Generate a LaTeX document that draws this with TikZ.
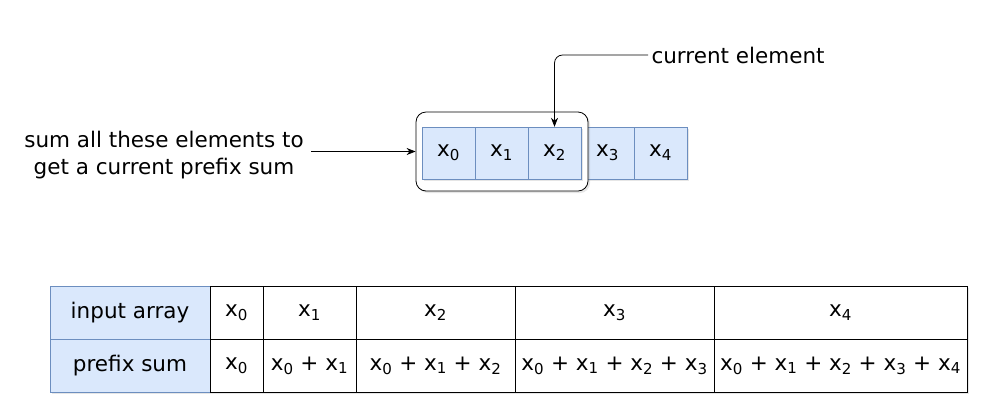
\documentclass[tikz,border=0pt]{standalone}
\usepackage{fontspec}
\setmainfont{DejaVu Sans}
\usetikzlibrary{positioning, arrows.meta, shadows}

\definecolor{cellblue}{HTML}{DAE8FC}
\definecolor{lineblue}{HTML}{6C8EBF}
\newcommand{\xs}[1]{x\textsubscript{#1}}

\begin{document}
\begin{tikzpicture}[x=1pt, y=-1pt,
	every node/.style={font=\fontsize{21.5}{27}\selectfont},
	shade/.style={drop shadow={opacity=0.2, shadow xshift=2pt, shadow yshift=-2pt}},
	arrcell/.style={draw=lineblue, fill=cellblue, minimum width=53pt, minimum height=52pt, inner sep=0pt, shade},
	headcell/.style={draw=lineblue, fill=cellblue, minimum height=53pt, inner sep=0pt, shade},
	tabcell/.style={draw=black, fill=white, minimum height=53pt, inner sep=0pt, shade},
	pointer/.style={thick, -{Stealth[length=9pt, width=7pt]}}]
	\useasboundingbox (0,0) rectangle (984,408);

	% input array at the top, the box sits between the cells
	\foreach \i in {3,4}
		\node[arrcell] (c\i) at (448.5+53*\i, 153) {\xs{\i}};
	\node[draw, thick, fill=white, rounded corners=10pt, minimum width=172pt, minimum height=79pt, shade] (grp) at (502, 151.5) {};
	\foreach \i in {0,1,2}
		\node[arrcell] (c\i) at (448.5+53*\i, 153) {\xs{\i}};

	% notes
	\node[align=center] (sumnote) at (164, 155) {sum all these elements to\\get a current prefix sum};
	\draw[pointer] (sumnote.east |- grp.west) ++(4,0) -- (grp.west);
	\node[anchor=west] (curnote) at (648, 55) {current element};
	\draw[pointer, rounded corners=8pt] (curnote.west) -| (c2.north);

	% table of prefix sums
	\node[headcell, minimum width=160pt] (hin) at (130, 312.5) {input array};
	\node[headcell, minimum width=160pt] (hps) at (130, 365.5) {prefix sum};
	\foreach \i/\l/\r/\s in {0/210/263/{\xs{0}},
			1/263/356/{\xs{0} + \xs{1}},
			2/356/515/{\xs{0} + \xs{1} + \xs{2}},
			3/515/714/{\xs{0} + \xs{1} + \xs{2} + \xs{3}},
			4/714/967/{\xs{0} + \xs{1} + \xs{2} + \xs{3} + \xs{4}}}
	{
		\node[tabcell, minimum width=\r-\l] (in\i) at ({(\l+\r)/2}, 312.5) {\xs{\i}};
		\node[tabcell, minimum width=\r-\l] (ps\i) at ({(\l+\r)/2}, 365.5) {\s};
	}
\end{tikzpicture}
\end{document}
